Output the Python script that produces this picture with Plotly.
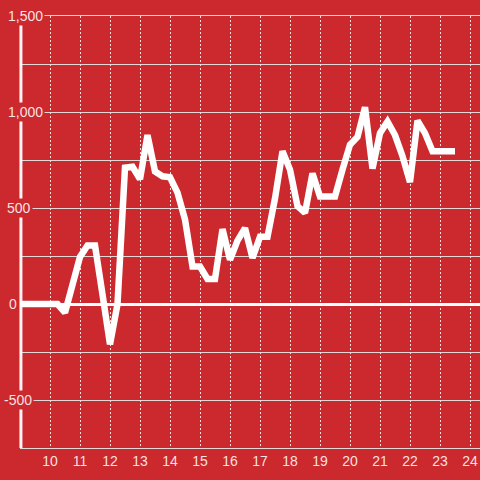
import plotly.graph_objects as go

# data
hours = [9.0, 9.25, 9.5, 9.75, 10.0, 10.25, 10.5, 10.75, 11.0, 11.25, 11.5, 11.75,
         12.0, 12.25, 12.5, 12.75, 13.0, 13.25, 13.5, 13.75, 14.0, 14.25, 14.5, 14.75,
         15.0, 15.25, 15.5, 15.75, 16.0, 16.25, 16.5, 16.75, 17.0, 17.25, 17.5, 17.75,
         18.0, 18.25, 18.5, 18.75, 19.0, 19.25, 19.5, 19.75, 20.0, 20.25, 20.5, 20.75,
         21.0, 21.25, 21.5, 21.75, 22.0, 22.25, 22.5, 22.75, 23.0, 23.25, 23.5]
values = [0, 0, 0, 0, 0, 0, -45, 90, 245, 305, 305, 50,
          -210, 0, 710, 715, 650, 880, 690, 665, 660, 580, 440, 195,
          195, 130, 130, 390, 230, 330, 395, 240, 350, 350, 550, 795,
          700, 510, 475, 680, 560, 560, 560, 700, 830, 870, 1025, 705,
          890, 950, 880, 770, 635, 955, 890, 795, 795, 795, 795]

x_ticks = list(range(10, 25))
y_tick_vals = [-500, 0, 500, 1000, 1500]
y_tick_text = ["-500", "0", "500", "1,000", "1,500"]

# label horizontal nudges (pixels), style only
y_label_shift = [-18, -13, -15, -14, -14]

BG = "#cc292e"
TXT = "rgba(255,255,255,0.88)"
GRID = "rgba(225,225,225,0.95)"
FONT = "Liberation Sans, Arial, sans-serif"

fig = go.Figure()
fig.add_trace(go.Scatter(x=hours, y=values, mode="lines",
                         line=dict(color="white", width=6.5),
                         hoverinfo="skip"))

fig.update_layout(
    width=480, height=480,
    margin=dict(l=20, r=0, t=16, b=32),
    paper_bgcolor=BG, plot_bgcolor=BG,
    showlegend=False,
    font=dict(family=FONT, size=14, color=TXT),
    xaxis=dict(range=[9, 24.3333], tickvals=x_ticks, ticktext=[str(t) for t in x_ticks],
               showgrid=True, gridcolor="rgba(255,255,255,0.85)", gridwidth=1,
               griddash="2px,2px", zeroline=False,
               showline=True, linecolor=GRID, linewidth=1, mirror=True,
               ticks="", tickfont=dict(size=14, color=TXT, family=FONT)),
    yaxis=dict(range=[-750, 1500], dtick=250, tick0=0, showticklabels=False,
               showgrid=True, gridcolor=GRID, gridwidth=1,
               zeroline=True, zerolinecolor="white", zerolinewidth=3,
               showline=False, ticks=""),
)

# white y-axis line
fig.add_shape(type="line", xref="paper", yref="paper", x0=0.002, x1=0.002, y0=0, y1=1,
              line=dict(color="rgba(255,255,255,0.95)", width=3), layer="above")

for v, t, s in zip(y_tick_vals, y_tick_text, y_label_shift):
    fig.add_annotation(x=0, xref="paper", y=v, yref="y", text=t, showarrow=False,
                       xanchor="left", yanchor="middle", xshift=s,
                       bgcolor=BG, borderpad=1,
                       font=dict(size=14, color=TXT, family=FONT))

fig.write_html("out.html", config={"displayModeBar": False},
               post_script="document.body.style.margin='0';document.body.style.background='%s';" % BG)
